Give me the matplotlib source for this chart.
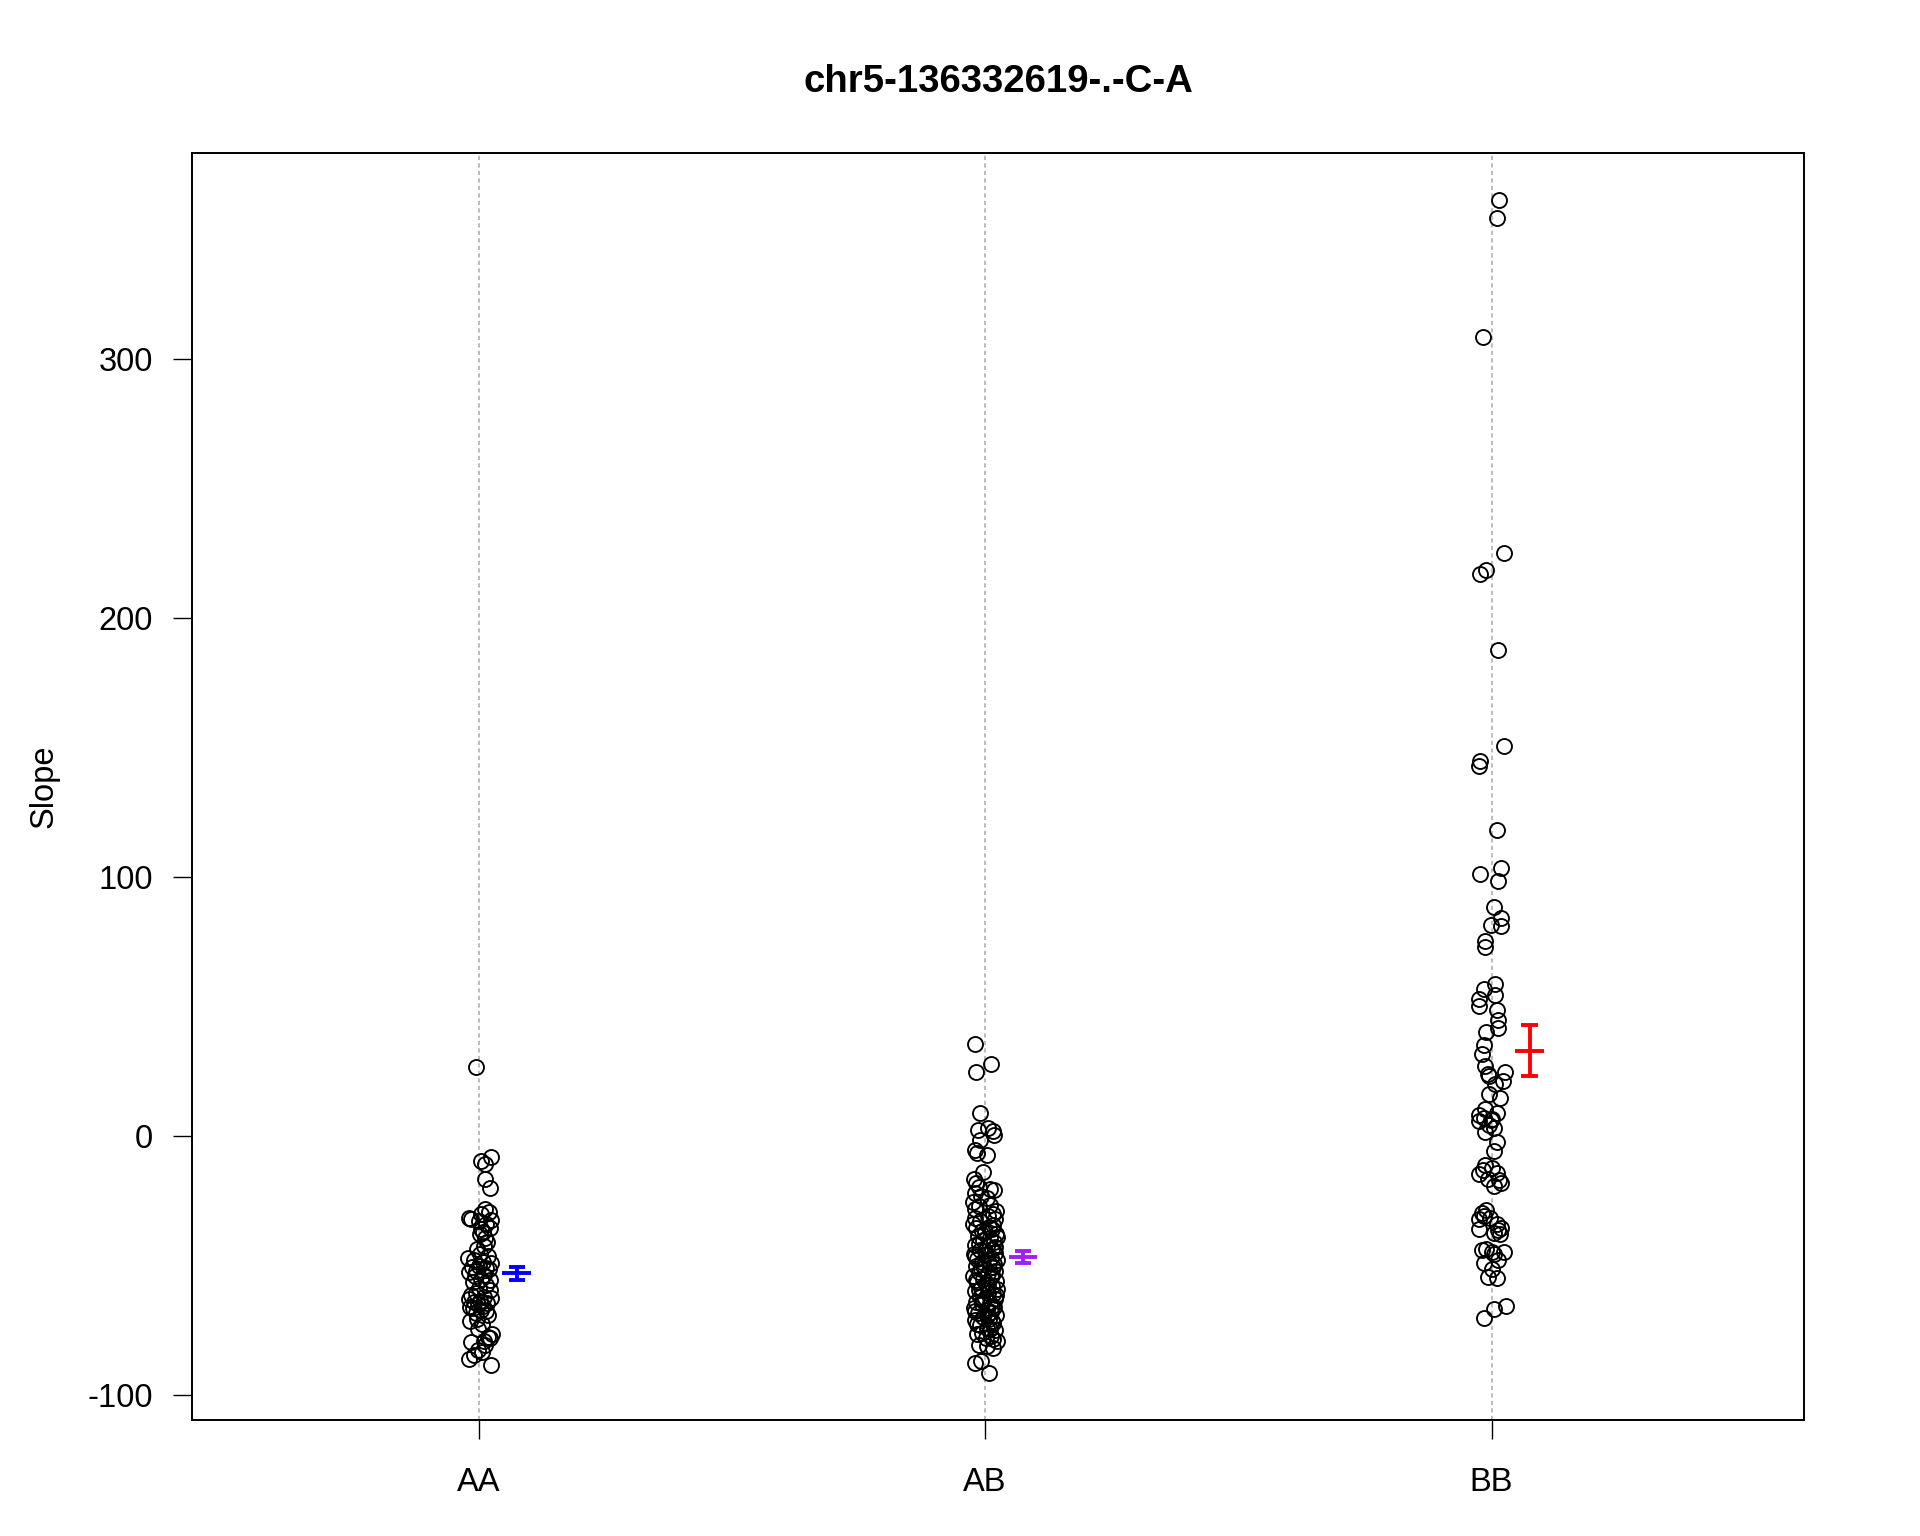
import numpy as np
import matplotlib
matplotlib.use("Agg")
import matplotlib.pyplot as plt

plt.rcParams['font.family'] = ['Liberation Sans', 'DejaVu Sans']
plt.rcParams['axes.unicode_minus'] = False

title = "chr5-136332619-.-C-A"
categories = ["AA", "AB", "BB"]
ylabel = "Slope"
yticks = [-100, 0, 100, 200, 300]
bar_colors = ["#0000FF", "#A020F0", "#FF0000"]

aa_values = [26.5, -8.0, -9.5, -11.0, -16.5, -20.0,
             -28.0, -29.5, -30.0, -31.5, -32.0, -32.5, -33.0, -34.0, -35.5, -37.0, -38.0, -39.5, -41.0, -42.5,
             -36.0, -43.5,
             -45.5, -46.5, -47.0, -48.0, -48.5, -49.0, -50.0, -50.5, -51.0, -51.5, -52.0, -52.5, -53.5, -54.0,
             -55.0, -55.5, -56.5, -57.5, -58.5, -59.5,
             -60.5, -61.5, -62.0, -62.5, -63.0, -63.5, -64.0, -64.5, -65.0, -65.5, -66.0, -66.5, -67.0, -67.5,
             -68.5, -69.0,
             -70.5, -71.5, -72.5, -74.5, -76.5, -77.5, -78.0, -79.0, -79.5, -80.5, -82.5, -83.5, -84.5, -86.0, -88.5]
aa_jitter = [-0.005, 0.024, 0.005, 0.012, 0.012, 0.022,
             0.012, 0.020, 0.005, -0.020, -0.016, 0.025, 0.000, 0.015, 0.022, 0.008, 0.002, 0.012, 0.016, 0.010,
             0.004, -0.004,
             0.003, 0.018, -0.022, -0.010, 0.008, 0.024, 0.000, -0.014, 0.015, 0.020, -0.005, -0.019, 0.010, -0.008,
             0.004, 0.022, -0.012, 0.014, 0.000, 0.022,
             -0.006, -0.016, 0.010, 0.024, -0.020, 0.002, -0.010, 0.016, -0.002, 0.008, -0.018, -0.012, 0.004, 0.014,
             -0.006, 0.019,
             -0.004, -0.018, 0.006, -0.002, 0.026, 0.018, 0.022, 0.010, -0.016, 0.013, -0.002, 0.006, -0.010, -0.020, 0.024]

ab_values = [35.5, 27.9, 24.6, 9.0, 2.4, 3.0, 2.0, 0.3, -1.5, -5.5, -6.5, -7.5, -14.0,
             -16.5, -18.0, -19.5, -21.0, -22.0, -23.0, -25.5, -26.5, -28.0, -29.0, -30.0, -31.0, -32.0, -33.0,
             -34.0, -35.0, -35.5, -36.0, -37.0, -38.0, -38.5, -39.5, -40.0, -41.0, -42.0, -42.5, -43.5, -44.0,
             -45.0, -45.5, -46.0, -47.0, -47.5, -48.0, -48.5, -49.0, -50.0, -50.5, -51.0, -52.0, -52.5, -53.0,
             -54.0, -54.5, -55.0, -56.0, -56.5, -57.0, -58.0, -58.5, -59.0, -60.0, -60.5, -61.0, -62.0, -62.5,
             -63.0, -64.0, -64.5, -65.0, -66.0, -66.5, -67.0, -68.0, -68.5, -69.0, -70.0, -70.5, -71.0, -72.0,
             -73.0, -74.0, -75.0, -76.0, -77.0, -78.0, -79.0, -80.5, -82.0, -87.5, -87.0, -91.5,
             -20.5, -24.0, -27.0, -31.5, -34.5, -36.5, -39.0, -41.5, -43.0, -44.5, -46.5, -49.5, -51.5, -53.5,
             -55.5, -57.5, -59.5, -61.5, -63.5, -65.5, -67.5, -69.5, -71.5, -72.5, -74.5, -76.5, -78.5, -81.0]
ab_jitter = [-0.020, 0.012, -0.017, -0.010, -0.015, 0.005, 0.015, 0.018, -0.010, -0.020, -0.016, 0.003, -0.005,
             -0.022, -0.017, -0.012, 0.018, -0.020, -0.008, -0.024, 0.010, -0.020, 0.022, 0.015, 0.005, 0.020, -0.010,
             -0.024, 0.008, -0.018, 0.014, 0.000, 0.022, -0.014, 0.010, -0.004, 0.018, -0.020, 0.004, 0.014, -0.010,
             0.020, -0.022, 0.002, 0.012, -0.016, 0.024, -0.006, 0.008, -0.018, 0.016, -0.002, 0.020, -0.012, 0.006,
             -0.024, 0.012, -0.004, 0.022, -0.016, 0.002, 0.014, -0.008, 0.024, -0.020, 0.006, 0.016, -0.010, 0.000,
             0.020, -0.018, 0.010, -0.006, 0.018, -0.022, 0.004, 0.012, -0.014, 0.022, -0.004, 0.008, -0.020, 0.016,
             -0.010, 0.004, 0.020, -0.006, 0.012, 0.002, 0.024, -0.012, 0.016, -0.020, -0.008, 0.008,
             0.010, 0.004, -0.012, -0.020, 0.016, -0.006, 0.024, -0.012, 0.020, 0.000, -0.020, 0.018, -0.008, 0.014,
             -0.018, 0.006, -0.012, 0.022, -0.004, 0.014, -0.020, 0.004, 0.014, -0.016, 0.010, -0.016, 0.016, 0.004]

bb_values = [361.2, 354.1, 308.3, 225.1, 218.4, 217.0, 187.7, 150.4, 144.7, 142.8, 118.2, 103.5, 101.2, 98.3,
             88.4, 84.2, 81.3, 80.9, 75.2, 72.8, 58.6, 56.7, 54.4, 53.0, 50.1, 48.7, 44.9, 40.2, 41.6, 35.0,
             31.7, 27.0, 24.1, 24.6, 23.2, 21.3, 19.9, 16.1, 14.7, 10.4, 8.0, 7.1, 9.0, 6.6, 5.7, 4.3, 1.4,
             -2.4, -5.7, -11.3, -12.3, -14.7, -14.2, -16.5, -18.0, -19.4, -29.8, -28.4, -32.2, -30.7, -35.5,
             -37.4, -37.8, -36.4, -35.9, -44.0, -43.5, -44.9, -44.9, -47.8, -49.2, -51.5, -54.4, -54.8, -65.7,
             -66.7, -70.4,
             6.0, 3.0, -13.0, -17.0, -31.5, -34.0, -45.5]
bb_jitter = [0.015, 0.010, -0.017, 0.024, -0.010, -0.022, 0.012, 0.024, -0.022, -0.024, 0.010, 0.019, -0.022, 0.012,
             0.005, 0.019, -0.002, 0.019, -0.012, -0.012, 0.007, -0.015, 0.007, -0.024, -0.024, 0.010, 0.012, -0.010,
             0.012, -0.015, -0.019, -0.012, -0.007, 0.027, -0.005, 0.022, 0.007, -0.005, 0.017, -0.012, -0.024, -0.015,
             0.010, 0.000, -0.024, -0.005, -0.012, 0.010, 0.005, -0.012, 0.000, -0.024, 0.010, -0.007, 0.019, 0.005,
             -0.019, -0.010, -0.024, -0.015, 0.019, 0.005, 0.017, 0.012, -0.024, -0.019, -0.010, 0.000, 0.024, 0.012,
             -0.015, 0.000, -0.007, 0.010, 0.029, 0.005, -0.015,
             -0.002, 0.005, -0.017, 0.014, -0.004, 0.010, 0.004]

groups = [(aa_values, aa_jitter), (ab_values, ab_jitter), (bb_values, bb_jitter)]

fig = plt.figure(figsize=(19.2, 15.36), dpi=100)
ax = fig.add_axes([0.1, 0.0755, 0.8396, 0.8249])

positions = np.arange(1, len(categories) + 1)
for p in positions:
    ax.axvline(p, color="#B0B0B0", lw=1.2, linestyle=(0, (2.5, 2.0)), zorder=1)

all_vals = []
for i, ((vals, jit), col) in enumerate(zip(groups, bar_colors)):
    v = np.asarray(vals, dtype=float)
    j = np.asarray(jit, dtype=float)
    all_vals.extend(v)
    ax.plot(positions[i] + j, v, linestyle="none", marker="o", markersize=10.8,
            markerfacecolor="none", markeredgecolor="black", markeredgewidth=1.35, zorder=3)
    m = v.mean()
    se = v.std(ddof=1) / np.sqrt(len(v))
    xc = positions[i] + 0.075
    ax.vlines(xc, m - se, m + se, color=col, lw=2.8, zorder=4)
    ax.hlines([m - se, m + se], xc - 0.016, xc + 0.016, color=col, lw=2.8, zorder=4)
    ax.hlines(m, xc - 0.028, xc + 0.028, color=col, lw=2.8, zorder=4)

ymin, ymax = min(all_vals), max(all_vals)
pad = 0.04 * (ymax - ymin)
ax.set_ylim(ymin - pad, ymax + pad)
ax.set_xlim(0.434, 3.617)

ax.set_xticks(positions)
ax.set_xticklabels(categories)
ax.set_yticks(yticks)
ax.tick_params(axis="both", direction="out", length=14, width=1.0, labelsize=23.5, colors="black")
ax.tick_params(axis="x", pad=20)
ax.tick_params(axis="y", pad=14)
for s in ax.spines.values():
    s.set_linewidth(1.4)

ax.set_ylabel(ylabel, fontsize=23.5, va="center")
ax.yaxis.set_label_coords(-0.0918, 0.5)
ax.set_title(title, fontsize=27.6, fontweight="bold", pad=44)

fig.savefig("out.png", dpi=100)
